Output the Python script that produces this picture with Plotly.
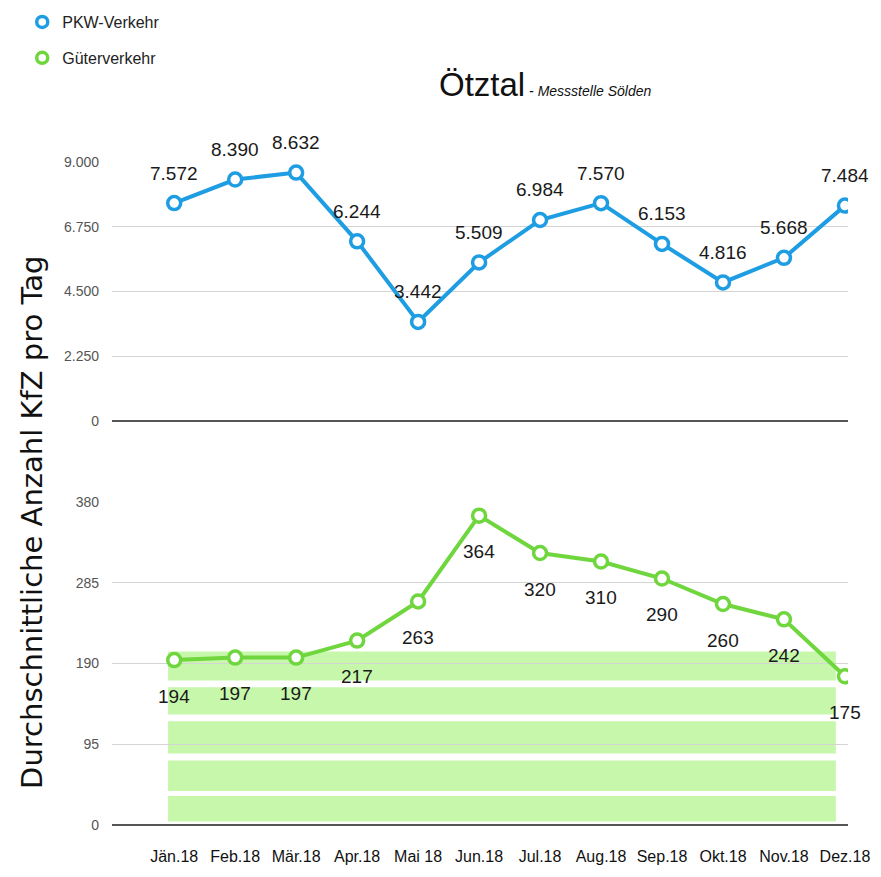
import plotly.graph_objects as go
from plotly.subplots import make_subplots

months = ["Jän.18", "Feb.18", "Mär.18", "Apr.18", "Mai 18", "Jun.18",
          "Jul.18", "Aug.18", "Sep.18", "Okt.18", "Nov.18", "Dez.18"]
pkw = [7572, 8390, 8632, 6244, 3442, 5509, 6984, 7570, 6153, 4816, 5668, 7484]
gueter = [194, 197, 197, 217, 263, 364, 320, 310, 290, 260, 242, 175]

pkw_ticks = [0, 2250, 4500, 6750, 9000]
gueter_ticks = [0, 95, 190, 285, 380]

BLUE = "#1e9de3"
GREEN = "#6fd63e"
FONT = "Liberation Sans, Arial, sans-serif"

# decorative green stripes behind the lower chart (value ranges on lower axis)
bands = [(4, 34), (40, 76), (84, 122), (130, 162), (170, 204)]


def de(v):
    return f"{v:,}".replace(",", ".")


fig = make_subplots(rows=2, cols=1)

fig.add_trace(go.Scatter(
    x=months, y=pkw, name="PKW-Verkehr", mode="lines+markers", showlegend=False,
    line=dict(color=BLUE, width=4),
    marker=dict(symbol="circle", size=13, color="white", line=dict(color=BLUE, width=3.5)),
), row=1, col=1)

fig.add_trace(go.Scatter(
    x=months, y=gueter, name="Güterverkehr", mode="lines+markers", showlegend=False,
    line=dict(color=GREEN, width=4),
    marker=dict(symbol="circle", size=13, color="white", line=dict(color=GREEN, width=3.5)),
), row=2, col=1)

# legend entries show only the marker, like the original
for name, col in [("PKW-Verkehr", BLUE), ("Güterverkehr", GREEN)]:
    fig.add_trace(go.Scatter(
        x=[None], y=[None], name=name, mode="markers", legendgroup=name,
        marker=dict(symbol="circle", size=11, color="white", line=dict(color=col, width=3.5)),
    ), row=1, col=1)

annotations = []
for m, v in zip(months, pkw):
    annotations.append(dict(x=m, y=v, xref="x", yref="y", text=de(v), showarrow=False,
                            yshift=30, font=dict(family=FONT, size=19, color="#1a1a1a")))
for m, v in zip(months, gueter):
    annotations.append(dict(x=m, y=v, xref="x2", yref="y2", text=de(v), showarrow=False,
                            yshift=-36, font=dict(family=FONT, size=19, color="#1a1a1a")))

annotations.append(dict(
    x=0.4416, y=0.918, xref="paper", yref="paper", xanchor="left", yanchor="middle",
    showarrow=False,
    text="Ötztal<span style='font-size:14px'><i> - Messstelle Sölden</i></span>",
    font=dict(family=FONT, size=33, color="#111"),
))
annotations.append(dict(
    x=-0.108, y=0.375, xref="paper", yref="paper", xanchor="center", yanchor="middle",
    showarrow=False, textangle=-90,
    text="Durchschnittliche Anzahl KfZ pro Tag",
    font=dict(family="DejaVu Sans", size=29, color="#111"),
))

shapes = []
for lo, hi in bands:
    shapes.append(dict(type="rect", xref="x2", yref="y2", x0=-0.1, x1=10.85, y0=lo, y1=hi,
                       fillcolor="#c6f7ab", line=dict(width=0), layer="below"))

axis_common = dict(
    showgrid=True, gridcolor="#d4d4d4", gridwidth=1,
    zeroline=True, zerolinecolor="#555", zerolinewidth=1.5,
    tickfont=dict(family=FONT, size=14, color="#555"),
    ticks="", ticklabelstandoff=12, showline=False, tickformat=",",
)

fig.update_layout(
    width=881, height=877,
    margin=dict(l=104, r=41, t=10, b=60, autoexpand=False),
    plot_bgcolor="white", paper_bgcolor="white",
    separators=",.",
    showlegend=True,
    legend=dict(x=-0.122, y=1.016, xanchor="left", yanchor="top",
                font=dict(family=FONT, size=16, color="#222"),
                bgcolor="rgba(0,0,0,0)", tracegroupgap=12, itemwidth=30),
    xaxis=dict(domain=[0, 1], range=[-1.02, 11.05], showticklabels=False,
               showgrid=False, zeroline=False, anchor="y"),
    xaxis2=dict(domain=[0, 1], range=[-1.02, 11.05], showgrid=False, zeroline=False,
                ticks="", ticklabelstandoff=20,
                tickfont=dict(family=FONT, size=16, color="#111"), anchor="y2"),
    yaxis=dict(domain=[0.5006, 0.8216], range=[0, 9000], tickvals=pkw_ticks, **axis_common),
    yaxis2=dict(domain=[0, 0.4002], range=[0, 380], tickvals=gueter_ticks, **axis_common),
    annotations=annotations,
    shapes=shapes,
)

fig.write_html("out.html")
